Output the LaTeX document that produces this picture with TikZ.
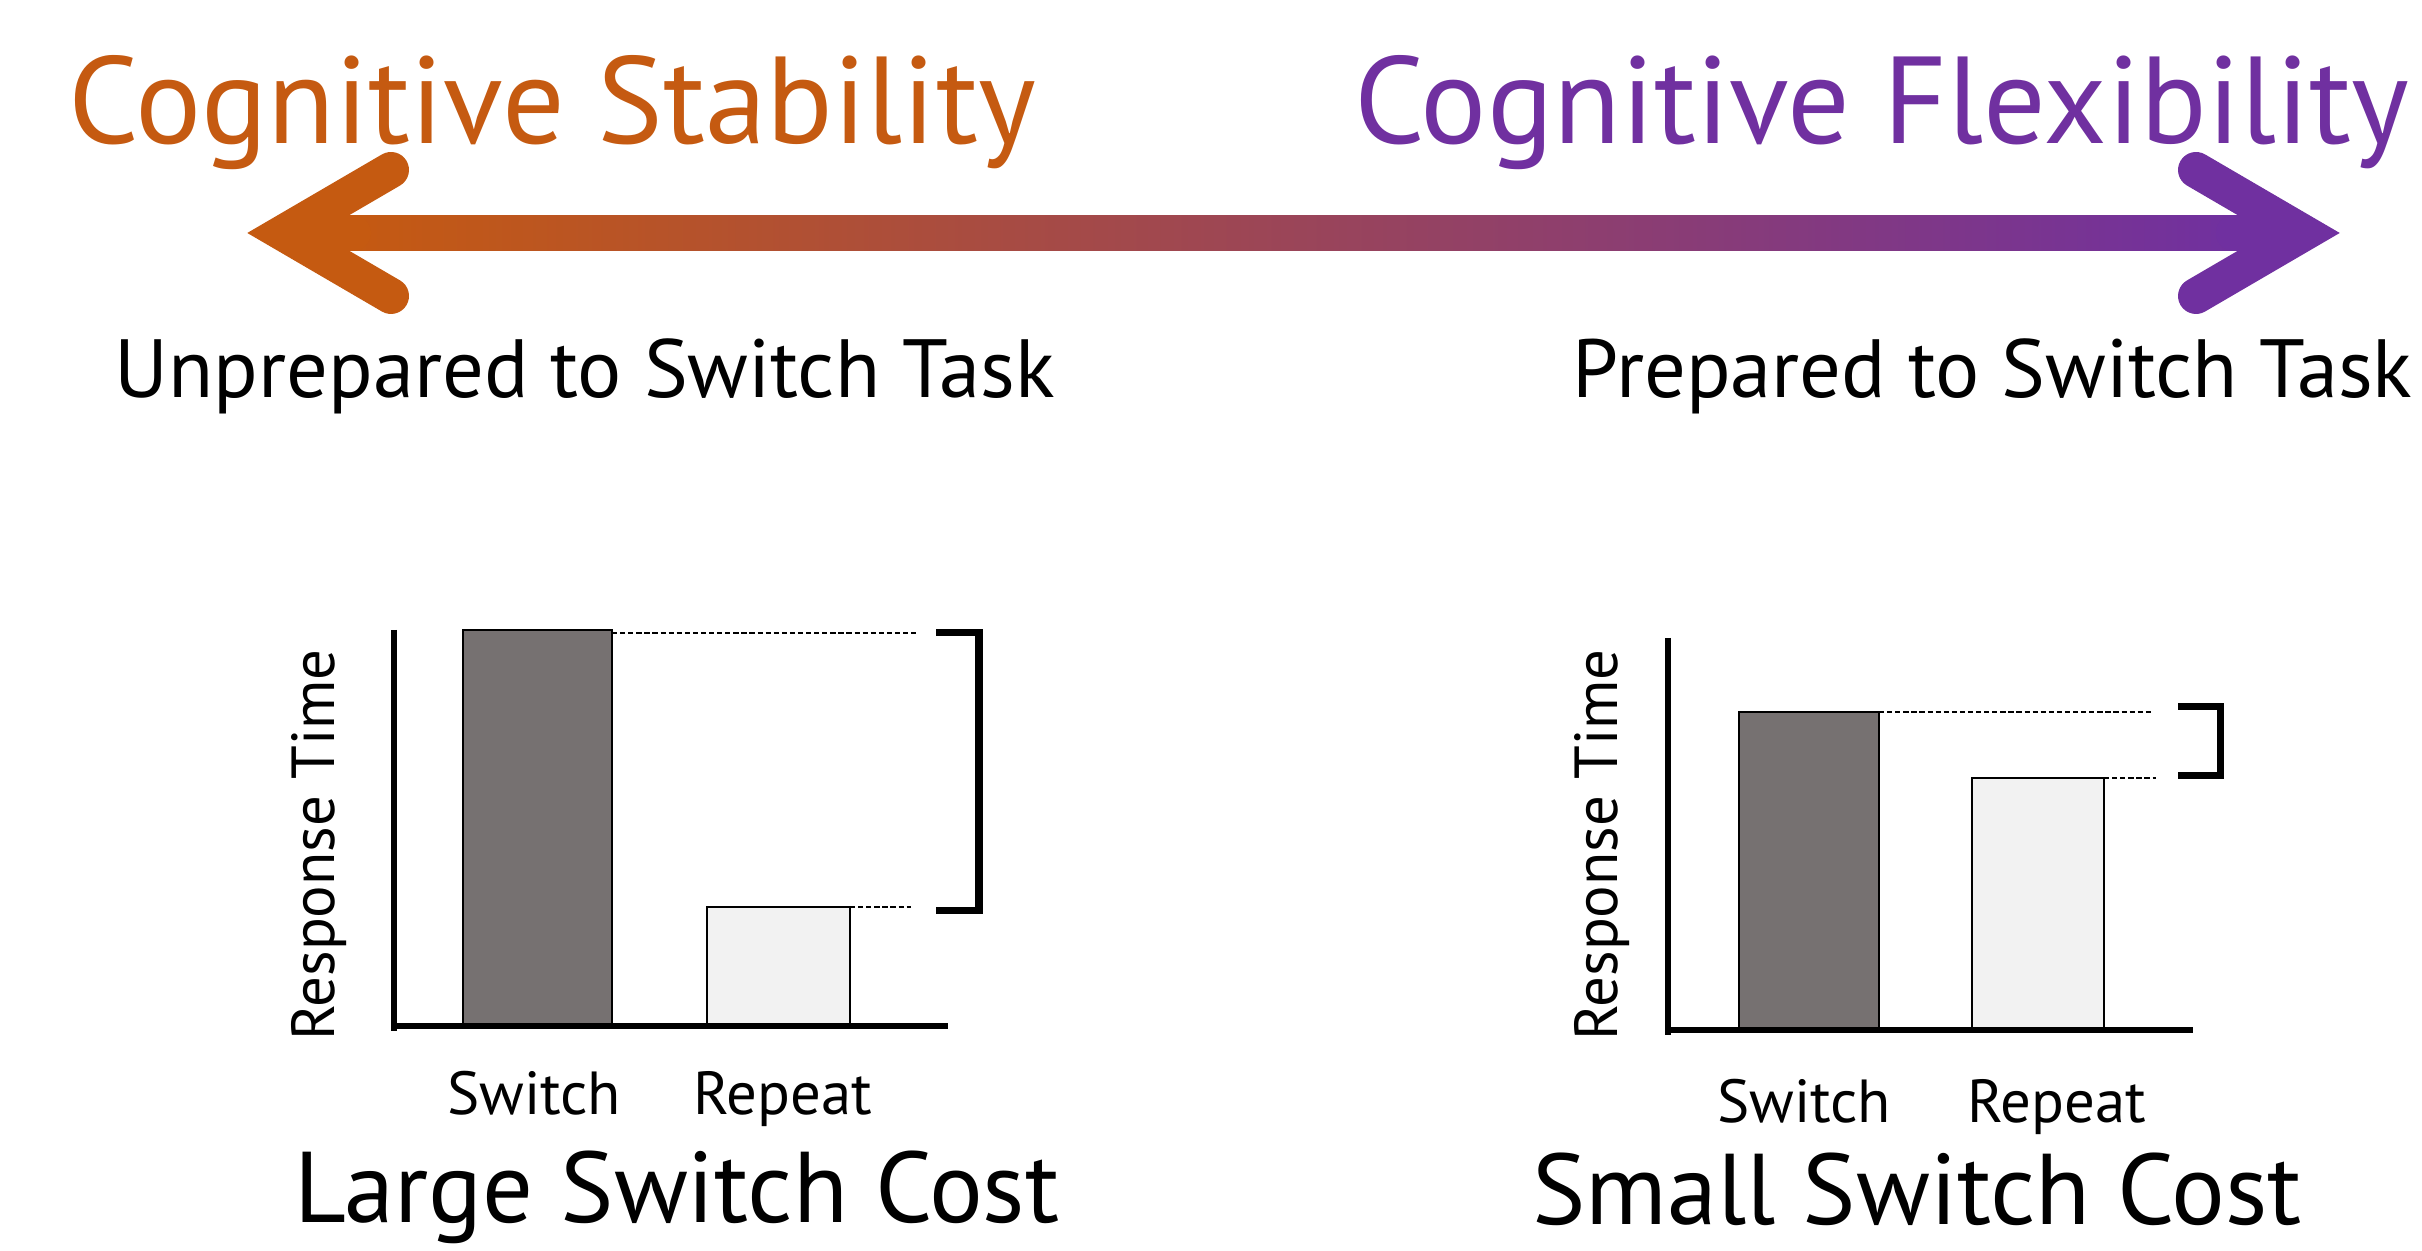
\documentclass[tikz,border=0pt]{standalone}
\usepackage{fontspec}
\setmainfont{PT Sans}
\usepackage{xcolor}
\usepackage{tikz}
\usetikzlibrary{arrows.meta,positioning,calc}

\definecolor{stabcol}{HTML}{C55A11}
\definecolor{flexcol}{HTML}{7030A0}
\definecolor{switchgray}{HTML}{767171}
\definecolor{repeatgray}{HTML}{F2F2F2}

\begin{document}
\begin{tikzpicture}[x=1cm,y=1cm,
  bigtitle/.style={inner sep=0pt,font=\fontsize{35.2}{38}\selectfont},
  sidetext/.style={inner sep=0pt,font=\fontsize{23.5}{26}\selectfont},
  costtext/.style={inner sep=0pt,font=\fontsize{28.6}{32}\selectfont},
  smalltext/.style={inner sep=0pt,font=\fontsize{17.3}{19}\selectfont},
  chevron/.style={line width=0.36cm,line cap=round,line join=miter},
  axisline/.style={line width=1.5pt},
  bar/.style={draw=black,line width=0.6pt},
  guide/.style={line width=0.6pt,dash pattern=on 1.5pt off 0.8pt},
  bracket/.style={line width=2pt}]
  \useasboundingbox (0,0) rectangle (24.22,12.51);

  % top labels
  \node[bigtitle,stabcol,anchor=base west] (stab) at (0.68,11.07) {Cognitive Stability};
  \node[bigtitle,flexcol,anchor=base east] (flex) at (24.10,11.07) {Cognitive Flexibility};
  \node[sidetext,anchor=base west] (unprep) at (1.14,8.53) {Unprepared to Switch Task};
  \node[sidetext,anchor=base east] (prep) at (24.13,8.53) {Prepared to Switch Task};

  % double arrow
  \coordinate (lefttip) at (2.83,10.18);
  \coordinate (righttip) at (23.04,10.18);
  \shade[left color=stabcol,right color=flexcol]
    ($(lefttip)+(0.6,-0.175)$) rectangle ($(righttip)+(-0.6,0.175)$);
  \draw[chevron,stabcol] ($(lefttip)+(1.08,0.63)$) -- (lefttip) -- ($(lefttip)+(1.08,-0.63)$);
  \draw[chevron,stabcol] ($(lefttip)+(0.2,0)$) -- ($(lefttip)+(0.7,0)$);
  \draw[chevron,flexcol] ($(righttip)+(-1.08,0.63)$) -- (righttip) -- ($(righttip)+(-1.08,-0.63)$);
  \draw[chevron,flexcol] ($(righttip)+(-0.2,0)$) -- ($(righttip)+(-0.7,0)$);

  % large switch cost
  \draw[bar,fill=switchgray] (4.63,2.25) rectangle (6.12,6.21);
  \draw[bar,fill=repeatgray] (7.07,2.25) rectangle (8.50,3.44);
  \draw[axisline] (3.94,6.21) -- (3.94,2.20);
  \draw[axisline] (3.91,2.25) -- (9.48,2.25);
  \draw[guide] (6.12,6.18) -- (9.16,6.18);
  \draw[guide] (8.50,3.44) -- (9.11,3.44);
  \draw[bracket] (9.36,6.18) -- (9.79,6.18) -- (9.79,3.40) -- (9.36,3.40);
  \node[smalltext,rotate=90,anchor=base] (rtleft) at (3.34,4.06) {Response Time};
  \node[smalltext,anchor=base] (swleft) at (5.34,1.36) {Switch};
  \node[smalltext,anchor=base] (repleft) at (7.83,1.36) {Repeat};
  \node[costtext,anchor=base] (large) at (6.77,0.28) {Large Switch Cost};

  % small switch cost
  \draw[bar,fill=switchgray] (17.39,2.21) rectangle (18.79,5.39);
  \draw[bar,fill=repeatgray] (19.72,2.21) rectangle (21.04,4.73);
  \draw[axisline] (16.68,6.13) -- (16.68,2.16);
  \draw[axisline] (16.66,2.21) -- (21.93,2.21);
  \draw[guide] (18.79,5.39) -- (21.52,5.39);
  \draw[guide] (21.04,4.73) -- (21.56,4.73);
  \draw[bracket] (21.78,5.44) -- (22.20,5.44) -- (22.20,4.75) -- (21.78,4.75);
  \node[smalltext,rotate=90,anchor=base] (rtright) at (16.17,4.06) {Response Time};
  \node[smalltext,anchor=base] (swright) at (18.04,1.28) {Switch};
  \node[smalltext,anchor=base] (repright) at (20.57,1.28) {Repeat};
  \node[costtext,anchor=base] (small) at (19.17,0.26) {Small Switch Cost};
\end{tikzpicture}
\end{document}
